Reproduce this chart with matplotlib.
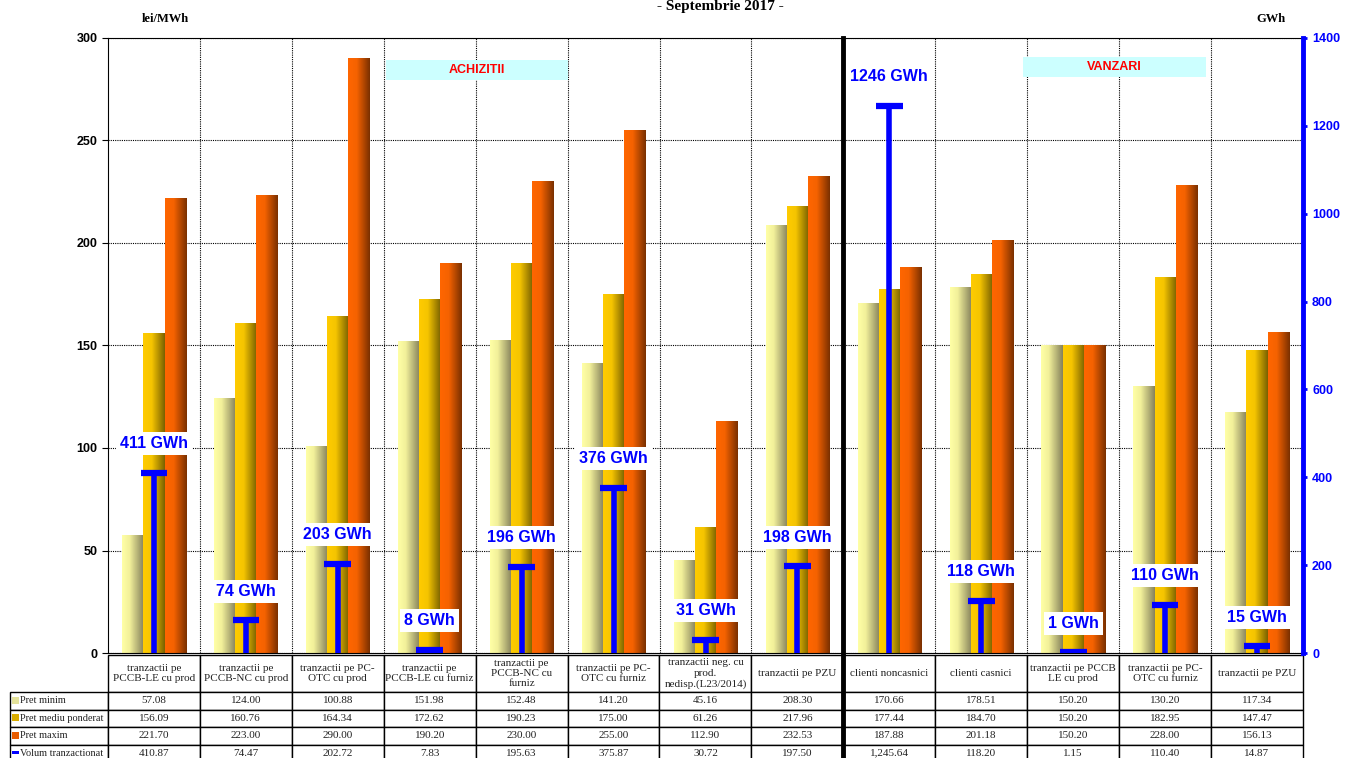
import numpy as np
import matplotlib
matplotlib.use("Agg")
import matplotlib.pyplot as plt
from matplotlib.colors import LinearSegmentedColormap
from matplotlib.patches import Rectangle

# categories (table header) and values
categories = [
    "tranzactii pe\nPCCB-LE cu prod", "tranzactii pe\nPCCB-NC cu prod", "tranzactii pe PC-\nOTC cu prod",
    "tranzactii pe\nPCCB-LE cu furniz", "tranzactii pe\nPCCB-NC cu\nfurniz", "tranzactii pe PC-\nOTC cu furniz",
    "tranzactii neg. cu\nprod.\nnedisp.(L23/2014)", "tranzactii pe PZU",
    "clienti noncasnici", "clienti casnici", "tranzactii pe PCCB\nLE cu prod",
    "tranzactii pe PC-\nOTC cu furniz", "tranzactii pe PZU",
]
pret_minim = [57.08, 124.00, 100.88, 151.98, 152.48, 141.20, 45.16, 208.30, 170.66, 178.51, 150.20, 130.20, 117.34]
pret_mediu = [156.09, 160.76, 164.34, 172.62, 190.23, 175.00, 61.26, 217.96, 177.44, 184.70, 150.20, 182.95, 147.47]
pret_maxim = [221.70, 223.00, 290.00, 190.20, 230.00, 255.00, 112.90, 232.53, 187.88, 201.18, 150.20, 228.00, 156.13]
volum = [410.87, 74.47, 202.72, 7.83, 195.63, 375.87, 30.72, 197.50, 1245.64, 118.20, 1.15, 110.40, 14.87]
volum_txt = ["410.87", "74.47", "202.72", "7.83", "195.63", "375.87", "30.72", "197.50",
             "1,245.64", "118.20", "1.15", "110.40", "14.87"]
row_labels = ["Pret minim", "Pret mediu ponderat", "Pret maxim", "Volum tranzactionat"]

W, H = 1345, 758
fig = plt.figure(figsize=(W / 100, H / 100), dpi=100)
ax = fig.add_axes([108 / W, 1 - 653 / H, 1195 / W, 615 / H])
ax2 = ax.twinx()

x = np.arange(len(categories))
bw = 0.23

cmaps = [
    LinearSegmentedColormap.from_list("light", [(0, "#FFFFA6"), (0.35, "#F2F09A"), (1, "#86825C")]),
    LinearSegmentedColormap.from_list("gold", [(0, "#FFCC00"), (0.4, "#F5C400"), (1, "#7A6200")]),
    LinearSegmentedColormap.from_list("orange", [(0, "#FF6600"), (0.4, "#F56200"), (1, "#7A3000")]),
]
grad = np.linspace(0, 1, 64).reshape(1, -1)

for off, vals, cm in zip([-bw, 0, bw], [pret_minim, pret_mediu, pret_maxim], cmaps):
    bars = ax.bar(x + off, vals, width=bw, color="none", edgecolor="none", zorder=2)
    for b in bars:
        x0, y0, w, h = b.get_x(), b.get_y(), b.get_width(), b.get_height()
        ax.imshow(grad, extent=(x0, x0 + w, y0, y0 + h), cmap=cm, aspect="auto",
                  origin="lower", zorder=2, interpolation="bilinear")

ax.set_xlim(-0.5, len(categories) - 0.5)
ax.set_ylim(0, 300)
ax.set_yticks(range(0, 301, 50))
ax.set_xticks([])
ax.yaxis.grid(True, linestyle=(0, (1, 1)), color="black", linewidth=0.8)
ax.set_axisbelow(True)
for b in np.arange(0.5, len(categories) - 1, 1):
    ax.axvline(b, color="black", linestyle=(0, (1, 1)), linewidth=0.8, zorder=1)
ax.spines["top"].set_linestyle((0, (1, 1)))
ax.spines["top"].set_linewidth(0.8)
ax.spines["right"].set_visible(False)
ax.tick_params(axis="y", length=4, labelsize=9)
for t in ax.get_yticklabels():
    t.set_fontweight("bold")
    t.set_fontfamily("Liberation Sans")

# separator between achizitii and vanzari
ax.axvline(7.5, ymin=-0.2, ymax=1, color="black", linewidth=3.5, zorder=5, clip_on=False)

# volume on secondary axis
ax2.set_ylim(0, 1400)
ax2.set_yticks(range(0, 1401, 200))
ax2.vlines(x, 0, volum, color="blue", linewidth=4, zorder=3)
ax2.hlines(volum, x - 0.145, x + 0.145, color="blue", linewidth=4.5, zorder=3)
for xi, v in zip(x, volum):
    ax2.annotate(f"{round(v)} GWh", (xi, v), xytext=(0, 21), textcoords="offset points",
                 ha="center", va="center", color="blue", fontsize=11.5, fontweight="bold",
                 family="Liberation Sans", zorder=4,
                 bbox=dict(boxstyle="square,pad=0.25", fc="white", ec="none"))
for s in ["top", "left", "bottom"]:
    ax2.spines[s].set_visible(False)
ax2.spines["right"].set_color("blue")
ax2.spines["right"].set_linewidth(3.5)
ax2.tick_params(axis="y", colors="blue", length=3, width=2, labelsize=9)
for t in ax2.get_yticklabels():
    t.set_fontweight("bold")
    t.set_fontfamily("Liberation Sans")
    t.set_color("blue")

# section boxes
ax.add_patch(Rectangle((2.52, 279.5), 1.98, 9.8, facecolor="#CCFFFF", edgecolor="none", zorder=3))
ax.text(3.51, 284.4, "ACHIZITII", color="red", fontsize=9, fontweight="bold",
        family="Liberation Sans", ha="center", va="center", zorder=4)
ax.add_patch(Rectangle((9.45, 281.0), 2.0, 9.7, facecolor="#CCFFFF", edgecolor="none", zorder=3))
ax.text(10.45, 285.8, "VANZARI", color="red", fontsize=9, fontweight="bold",
        family="Liberation Sans", ha="center", va="center", zorder=4)

# titles
fig.text(720 / W, 1.0, "- Septembrie 2017 -", ha="center", va="top",
         fontsize=11, fontweight="bold", family="Liberation Serif")
fig.text(165 / W, 1 - 19 / H, "lei/MWh", ha="center", va="center",
         fontsize=9, fontweight="bold", family="Liberation Serif")
fig.text(1271 / W, 1 - 19 / H, "GWh", ha="center", va="center",
         fontsize=9, fontweight="bold", family="Liberation Serif")

# data table (first column holds the row labels)
value_rows = [[f"{v:.2f}" for v in pret_minim],
              [f"{v:.2f}" for v in pret_mediu],
              [f"{v:.2f}" for v in pret_maxim],
              volum_txt]
cell_text = [[lab] + row for lab, row in zip(row_labels, value_rows)]
tbl = ax.table(cellText=cell_text, colLabels=[""] + categories, cellLoc="center",
               bbox=[(10 - 108) / 1195, -(762 - 653) / 615, (1303 - 10) / 1195, (762 - 655) / 615])
tbl.auto_set_font_size(False)
for (r, c), cell in tbl.get_celld().items():
    cell.set_height(37 if r == 0 else 17.5)
    cell.set_width(98 if c == 0 else 92)
    cell.set_linewidth(1)
    cell.set_edgecolor("black")
    txt = cell.get_text()
    txt.set_fontfamily("Liberation Serif")
    txt.set_fontsize(8)
    txt.set_color("#222222")
    if c == 0:
        cell.PAD = 0.1
        cell._loc = "left"
        txt.set_horizontalalignment("left")
        txt.set_fontsize(7.4)
        if r == 0:
            cell.set_visible(False)

# legend markers in the row labels
marker_cols = ["#E4E29A", "#D8AC00", "#E85C00"]
for i, col in enumerate(marker_cols):
    yc = [700.5, 717.5, 735][i]
    fig.add_artist(Rectangle((12 / W, 1 - (yc + 3.5) / H), 7 / W, 7 / H,
                             transform=fig.transFigure, facecolor=col, edgecolor="none"))
fig.add_artist(Rectangle((12 / W, 1 - 753.5 / H), 7 / W, 3 / H,
                         transform=fig.transFigure, facecolor="blue", edgecolor="none"))

fig.savefig("out.png", dpi=100)
